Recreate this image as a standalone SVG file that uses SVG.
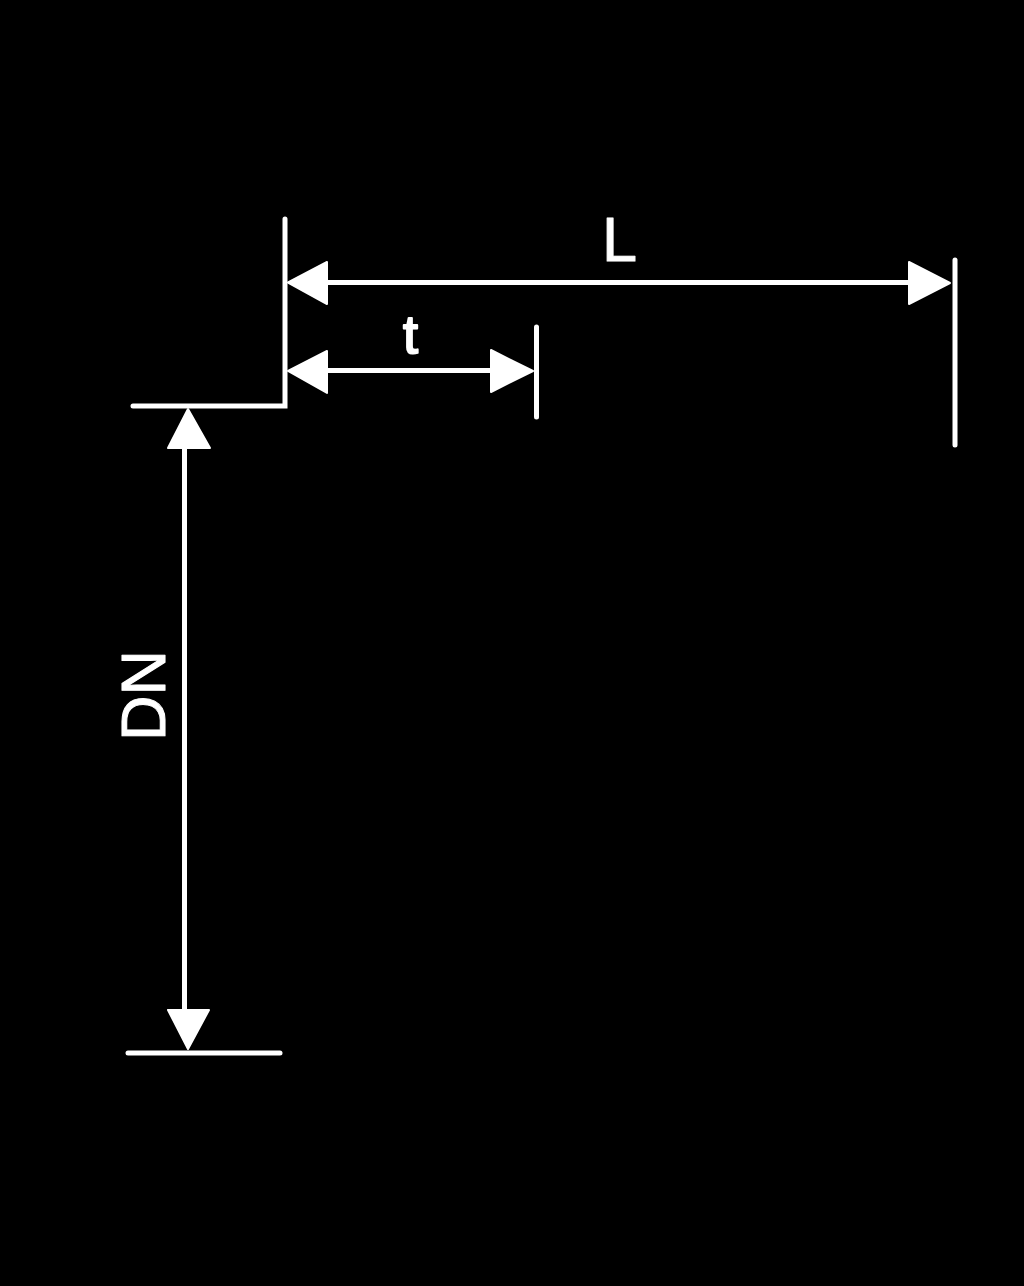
<svg xmlns="http://www.w3.org/2000/svg" width="1024" height="1286" viewBox="0 0 1024 1286">
<style>
.l{stroke:#fff;stroke-linecap:round;fill:none;stroke-width:5}
.d{stroke:#fff;fill:none;stroke-width:5}
.a{fill:#fff;stroke:#fff;stroke-width:2;stroke-linejoin:round}
text{font-family:"Liberation Sans",Arial,sans-serif;font-size:63px;fill:#fff;stroke:#fff;stroke-width:1;stroke-linejoin:round}
</style>
<rect width="1024" height="1286" fill="#000"/>
<g id="extension-lines">
<path class="l" d="M133 406H285V219"/>
<path class="l" d="M955 260V445"/>
<path class="l" d="M536.500 327V417"/>
<path class="l" d="M128 1053H280"/>
</g>
<g id="connectors">
<path class="d" d="M325 282.500H911"/>
<polygon class="a" points="288,282.500 327,262 327,304"/>
<polygon class="a" points="950,283 909,262 909,304"/>
<path class="d" d="M325 370.500H493"/>
<polygon class="a" points="288,371 327,351 327,393"/>
<polygon class="a" points="533,371 491,350 491,392"/>
<path class="d" d="M184.500 446V1012"/>
<polygon class="a" points="188,409 168,448 210,448"/>
<polygon class="a" points="188,1049 168,1010 209,1010"/>
</g>
<g id="label-L"><text x="602" y="261">L</text></g>
<g id="label-t"><text x="403" y="353" style="font-size:54px;stroke-width:2">t</text></g>
<g id="label-DN"><text transform="translate(164.500 741) rotate(-90)">DN</text></g>
</svg>
